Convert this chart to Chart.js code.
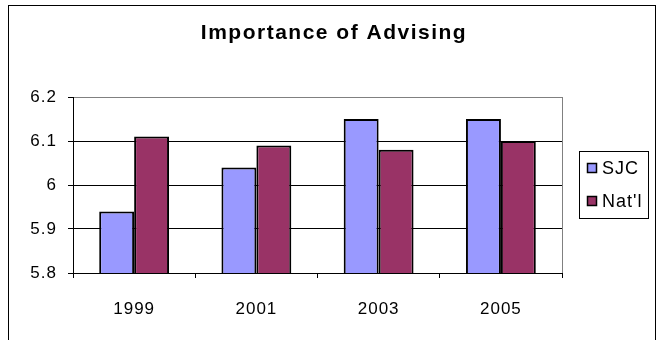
<!DOCTYPE html>
<html>
<head>
<meta charset="utf-8">
<script src="https://cdn.jsdelivr.net/npm/chart.js@4/dist/chart.umd.min.js"></script>
<style>
  html, body { margin: 0; padding: 0; background: #fff; overflow: hidden; }
  #wrap { position: relative; width: 658px; height: 340px; }
  #frame { position: absolute; left: 8px; top: 5px; width: 648px; height: 400px; border: 1px solid #000; box-sizing: border-box; }
  canvas { position: absolute; left: 0; top: 0; }
</style>
</head>
<body>
<div id="wrap">
  <div id="frame"></div>
  <canvas id="advisingChart" width="658" height="340"></canvas>
</div>
<script>
const years = ['1999', '2001', '2003', '2005'];
const sjcScores = [5.94, 6.04, 6.15, 6.15];
const natlScores = [6.11, 6.09, 6.08, 6.10];
const yTicks = [5.8, 5.9, 6.0, 6.1, 6.2];
const chartTitle = 'Importance of Advising';

const FONT = 'Liberation Sans, Arial, sans-serif';

// old excel text is drawn a little wider than the font itself
const wideText = {
  id: 'wideText',
  beforeDraw(chart) { chart.ctx.letterSpacing = '1px'; }
};

// title centred on the whole frame, boxed legend, gray plot-area edge
const excelExtras = {
  id: 'excelExtras',
  afterDraw(chart) {
    const ctx = chart.ctx;
    const area = chart.chartArea;
    ctx.save();
    ctx.strokeStyle = '#808080';
    ctx.lineWidth = 1;
    ctx.beginPath();
    ctx.moveTo(Math.round(area.right) + 0.5, area.top);
    ctx.lineTo(Math.round(area.right) + 0.5, area.bottom);
    ctx.stroke();

    ctx.fillStyle = '#000';
    ctx.letterSpacing = '1.5px';
    ctx.font = 'bold 21px ' + FONT;
    ctx.textAlign = 'center';
    ctx.textBaseline = 'middle';
    ctx.fillText(chartTitle, 334, 33);

    const x = 579, y = 151, w = 69, h = 67;
    ctx.letterSpacing = '1px';
    ctx.strokeStyle = '#000';
    ctx.strokeRect(x + 0.5, y + 0.5, w, h);
    ctx.font = '18px ' + FONT;
    ctx.textAlign = 'left';
    chart.data.datasets.forEach((ds, i) => {
      const cy = y + 17 + i * 33;
      ctx.fillStyle = ds.backgroundColor;
      ctx.fillRect(587, cy - 5, 9, 9);
      ctx.lineWidth = 1.5;
      ctx.strokeRect(587.5, cy - 4.5, 9, 9);
      ctx.fillStyle = '#000';
      ctx.fillText(ds.label, 602, cy + 1);
    });
    ctx.restore();
  }
};

const chart = new Chart(document.getElementById('advisingChart').getContext('2d'), {
  type: 'bar',
  data: {
    labels: years,
    datasets: [
      {
        label: 'SJC',
        data: sjcScores,
        backgroundColor: '#9999ff',
        borderColor: '#000',
        borderWidth: 2,
        borderSkipped: false
      },
      {
        label: "Nat'l",
        data: natlScores,
        backgroundColor: '#993366',
        borderColor: '#000',
        borderWidth: 2,
        borderSkipped: false
      }
    ]
  },
  options: {
    responsive: false,
    animation: false,
    datasets: {
      bar: { categoryPercentage: 2 / 3.5, barPercentage: 1 }
    },
    layout: { padding: { left: 0, right: 96, top: 97, bottom: 0 } },
    scales: {
      x: {
        afterFit(scale) { scale.height = 67; },
        grid: {
          offset: true,
          drawOnChartArea: false,
          tickLength: 5,
          tickColor: '#000'
        },
        border: { color: '#000', width: 1 },
        ticks: { color: '#000', font: { family: FONT, size: 17 }, padding: 21 }
      },
      y: {
        min: 5.8,
        max: 6.2,
        afterFit(scale) { scale.width = 73; },
        afterBuildTicks(scale) { scale.ticks = yTicks.map(v => ({ value: v })); },
        grid: {
          color: c => (c.tick && c.tick.value === 6.2 ? '#808080' : '#000'),
          tickColor: '#000',
          tickLength: 5,
          lineWidth: 1
        },
        border: { color: '#000', width: 1 },
        ticks: {
          color: '#000',
          font: { family: FONT, size: 17 },
          padding: 11,
          callback: v => String(Number(v.toFixed(1)))
        }
      }
    },
    plugins: {
      legend: { display: false },
      tooltip: { enabled: false },
      title: { display: false }
    }
  },
  plugins: [wideText, excelExtras]
});
</script>
</body>
</html>
